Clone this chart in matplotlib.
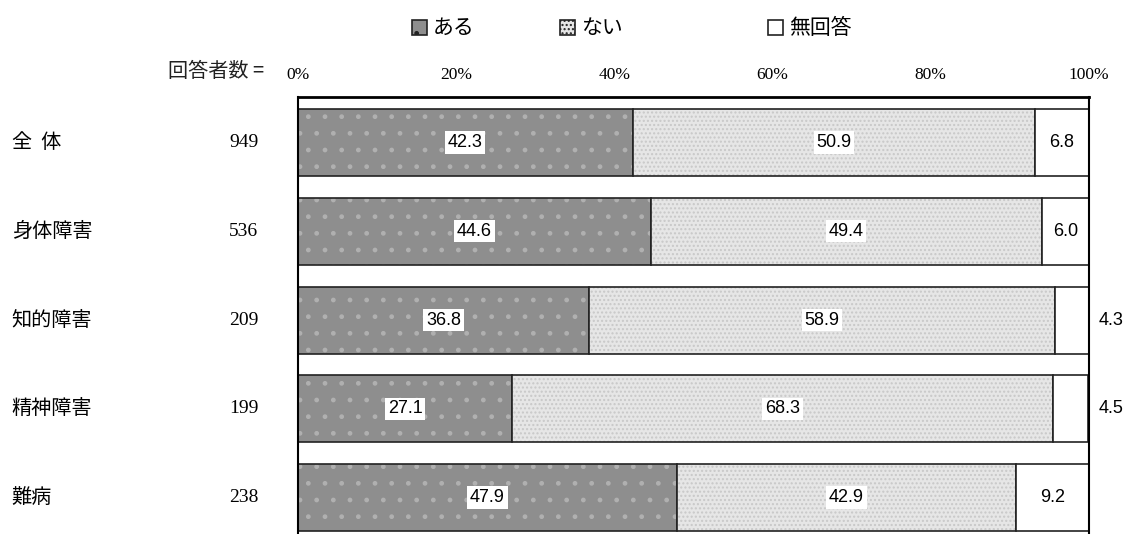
import matplotlib.pyplot as plt
import numpy as np

plt.rcParams['font.family'] = ['Noto Sans CJK JP', 'DejaVu Sans']
plt.rcParams['hatch.linewidth'] = 1.0

categories = ["全  体", "身体障害", "知的障害", "精神障害", "難病"]
respondents = [949, 536, 209, 199, 238]
aru = [42.3, 44.6, 36.8, 27.1, 47.9]
nai = [50.9, 49.4, 58.9, 68.3, 42.9]
mukaito = [6.8, 6.0, 4.3, 4.5, 9.2]
series_names = ["ある", "ない", "無回答"]
xticks = [0, 20, 40, 60, 80, 100]

W, H = 1127, 534
fig = plt.figure(figsize=(W / 100, H / 100), dpi=100)
ax = fig.add_axes([298 / W, 0, 791 / W, 437 / H])

y = np.arange(len(categories))
h = 0.755
serif = ['Liberation Serif', 'DejaVu Serif']
sans = ['Liberation Sans', 'DejaVu Sans']
fills = [('#8e8e8e', '#b0b0b0', '.'), ('#e6e6e6', '#c8c8c8', '....'), ('white', 'white', None)]

# fills with dot texture, then black outlines on top
left3 = np.array(aru) + np.array(nai)
lefts = [np.zeros(5), np.array(aru), left3]
for (fc, hc, hatch), lft, w in zip(fills, lefts, [aru, nai, mukaito]):
    ax.barh(y, w, left=lft, height=h, color=fc, edgecolor=hc, hatch=hatch, linewidth=0)
    ax.barh(y, w, left=lft, height=h, fill=False, edgecolor='#222222', linewidth=1.2)

box = dict(facecolor='white', edgecolor='none', pad=2)
for i in range(len(categories)):
    ax.text(aru[i] / 2, y[i], f"{aru[i]:.1f}", ha='center', va='center', fontsize=13,
            family=sans, bbox=box)
    ax.text(aru[i] + nai[i] / 2, y[i], f"{nai[i]:.1f}", ha='center', va='center', fontsize=13,
            family=sans, bbox=box)
    if mukaito[i] >= 5:
        ax.text(left3[i] + mukaito[i] / 2, y[i], f"{mukaito[i]:.1f}", ha='center', va='center',
                fontsize=13, family=sans)
    else:
        ax.text(102.8, y[i], f"{mukaito[i]:.1f}", ha='center', va='center',
                fontsize=13, family=sans)
    ax.text(-36.2, y[i], categories[i], ha='left', va='center', fontsize=14.5)
    ax.text(-5.0, y[i], str(respondents[i]), ha='right', va='center', fontsize=14, family=serif)

ax.text(-4.3, -0.8, "回答者数 =", ha='right', va='center', fontsize=14.5, color='#222222')

ax.set_xlim(0, 100)
ax.set_ylim(4.411, -0.513)
ax.xaxis.tick_top()
ax.set_xticks(xticks)
ax.set_xticklabels([f"{t}%" for t in xticks], family=serif, fontsize=12.5)
ax.tick_params(axis='x', length=0, pad=10)
ax.set_yticks([])
ax.spines['bottom'].set_visible(False)
ax.spines['top'].set_linewidth(2)
ax.spines['left'].set_linewidth(1.5)
ax.spines['right'].set_linewidth(1.5)

# legend, items placed by hand because the gaps are uneven
legend_x = [412, 560, 768]
for (fc, hc, hatch), name, lx in zip(fills, series_names, legend_x):
    fig.patches.append(plt.Rectangle((lx / W, 1 - 35 / H), 15 / W, 15 / H, transform=fig.transFigure,
                                     facecolor=fc, edgecolor='#222222', hatch=hatch, linewidth=1.2))
    fig.text((lx + 21) / W, 1 - 28 / H, name, ha='left', va='center', fontsize=15)

plt.savefig("out.png", dpi=100)
